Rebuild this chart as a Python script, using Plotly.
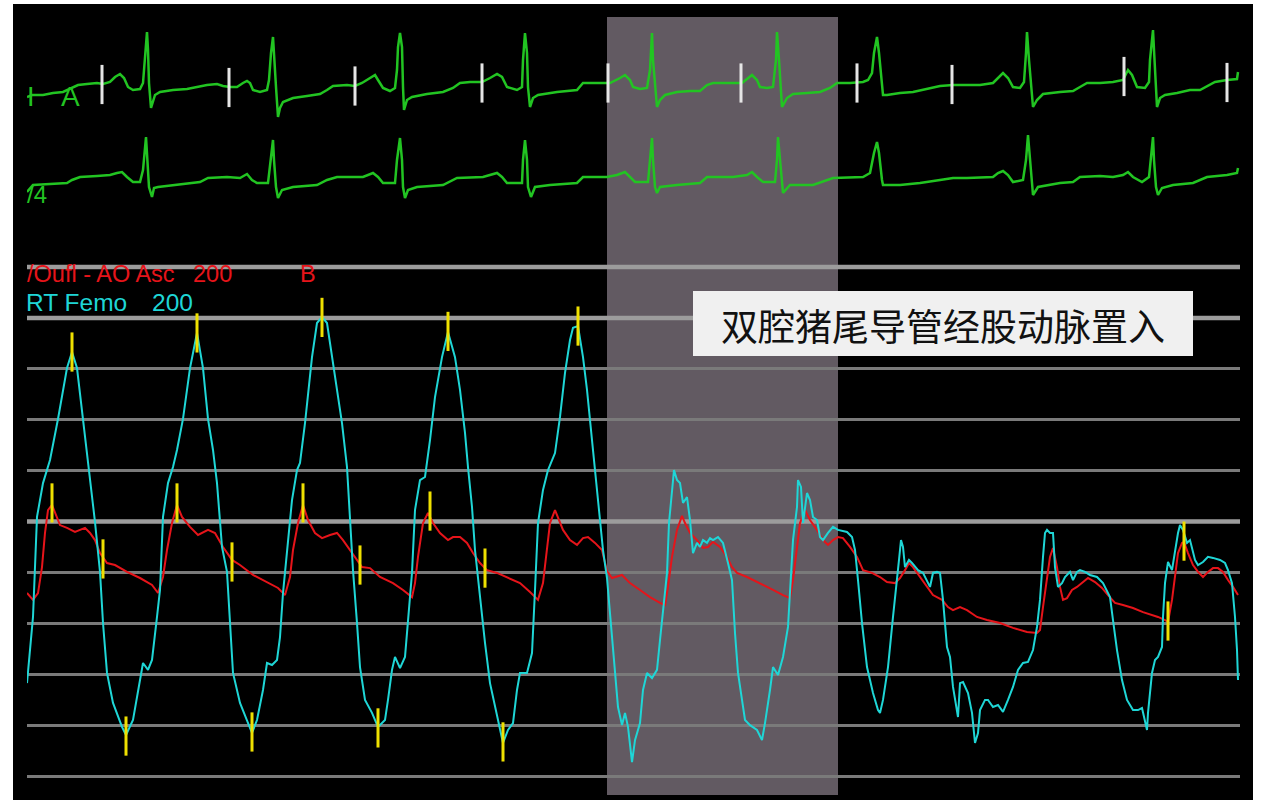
import numpy as np
import plotly.graph_objects as go

FS = 200.0  # samples per second of the monitor sweep

# ---------------- Femoral pressure (RT Femo, mmHg) ----------------
fem_s = [0, 6, 10, 16, 23, 31, 40, 45, 50, 56,
         61, 63, 68, 73, 76, 80, 86, 95, 99, 106,
         111, 116, 121, 125, 130, 133, 136, 141, 146, 150,
         156, 163, 170, 176, 181, 186, 190, 195, 200, 203,
         206, 213, 221, 225, 230, 236, 240, 245, 250, 253,
         256, 260, 265, 270, 273, 278, 285, 290, 295, 300,
         305, 310, 315, 320, 323, 326, 330, 333, 338, 345,
         351, 358, 361, 365, 368, 373, 378, 381, 385, 388,
         393, 398, 403, 408, 415, 421, 428, 433, 438, 441,
         445, 448, 453, 458, 463, 470, 476, 481, 486, 490,
         493, 500, 505, 508, 511, 516, 521, 528, 533, 538,
         543, 546, 551, 556, 560, 565, 568, 573, 576, 580,
         585, 588, 591, 595, 598, 601, 605, 608, 613, 616,
         620, 625, 630, 633, 636, 640, 642, 645, 647, 650,
         653, 656, 660, 663, 666, 670, 673, 676, 680, 683,
         686, 691, 696, 701, 705, 708, 711, 715, 718, 723,
         730, 735, 738, 743, 746, 751, 756, 761, 763, 766,
         770, 771, 774, 776, 780, 783, 786, 790, 793, 796,
         801, 806, 811, 820, 825, 828, 831, 835, 840, 846,
         851, 853, 856, 861, 866, 870, 872, 874, 876, 878,
         882, 885, 888, 891, 896, 903, 906, 910, 913, 916,
         920, 923, 926, 930, 931, 933, 936, 941, 945, 948,
         951, 953, 958, 961, 966, 971, 976, 981, 986, 991,
         996, 1001, 1006, 1010, 1013, 1016, 1018, 1020, 1023, 1026,
         1028, 1031, 1035, 1038, 1043, 1046, 1050, 1053, 1058, 1063,
         1070, 1076, 1083, 1086, 1090, 1095, 1100, 1106, 1111, 1115,
         1118, 1120, 1121, 1125, 1128, 1131, 1135, 1136, 1138, 1141,
         1145, 1148, 1151, 1153, 1156, 1160, 1163, 1168, 1171, 1176,
         1181, 1186, 1193, 1198, 1201, 1205, 1208, 1210, 1211]
fem_mmhg = [36.5, 62.5, 101.8, 115.1, 124.2, 140.3, 160.3, 166.6, 160.3, 140.3,
            124.2, 115.1, 99.8, 80.2, 60.1, 40.5, 28.7, 19.3, 16.1, 22.0,
            32.6, 44.4, 41.7, 45.6, 62.5, 73.1, 101.8, 115.1, 121.4, 128.1,
            140.3, 160.3, 174.1, 160.3, 140.3, 128.1, 115.1, 90.0, 80.2, 60.1,
            40.5, 28.7, 20.8, 16.9, 22.0, 33.8, 44.4, 43.6, 45.6, 54.6,
            71.9, 88.8, 108.4, 120.2, 123.0, 138.7, 164.6, 178.0, 180.4, 178.0,
            164.6, 151.7, 138.7, 121.4, 99.4, 80.9, 60.1, 42.8, 29.9, 24.8,
            19.3, 22.0, 29.9, 41.7, 46.8, 42.4, 46.8, 60.1, 79.8, 104.5,
            116.3, 117.5, 132.0, 148.9, 164.6, 174.5, 164.6, 151.7, 134.8, 121.4,
            105.7, 88.8, 70.3, 52.3, 36.5, 23.2, 13.0, 18.1, 20.8, 33.8,
            40.5, 40.5, 48.3, 73.1, 99.4, 112.4, 120.2, 126.9, 141.1, 158.4,
            171.3, 176.1, 176.8, 164.6, 151.7, 132.0, 120.2, 98.6, 88.8, 77.8,
            53.4, 40.5, 27.1, 20.0, 24.8, 19.3, 5.5, 14.1, 20.8, 33.8,
            40.5, 38.5, 41.7, 53.4, 64.1, 79.8, 99.4, 112.4, 120.2, 116.3,
            115.1, 107.3, 109.6, 100.6, 87.6, 91.6, 90.0, 92.7, 91.6, 93.5,
            92.7, 93.9, 91.6, 83.7, 77.0, 56.2, 40.5, 29.9, 22.0, 20.0,
            18.1, 14.1, 20.8, 33.8, 42.8, 39.7, 46.8, 58.6, 73.1, 92.7,
            105.7, 116.3, 113.6, 99.4, 111.2, 108.4, 101.8, 100.6, 93.9, 92.7,
            95.5, 97.9, 96.7, 95.9, 93.9, 88.8, 77.0, 60.1, 42.8, 32.6,
            25.9, 24.8, 29.9, 42.8, 62.5, 75.8, 84.9, 92.7, 90.0, 82.1,
            84.9, 83.7, 82.1, 80.9, 79.8, 74.3, 79.8, 80.2, 79.8, 69.2,
            50.7, 46.8, 35.0, 24.8, 23.2, 36.5, 36.9, 32.6, 24.8, 13.0,
            16.9, 25.9, 29.9, 29.9, 27.1, 27.9, 25.2, 29.9, 35.0, 41.7,
            44.4, 44.8, 49.5, 58.6, 69.2, 86.1, 95.5, 96.7, 95.5, 95.5,
            82.1, 74.3, 75.8, 78.2, 80.2, 77.0, 80.2, 80.9, 80.2, 79.0,
            78.2, 75.8, 70.3, 61.3, 49.5, 37.7, 29.9, 25.9, 25.9, 26.7,
            22.0, 18.1, 24.8, 40.5, 45.6, 46.8, 50.7, 62.5, 75.8, 84.1,
            80.9, 88.8, 95.5, 98.6, 96.7, 91.6, 92.7, 84.9, 82.9, 84.1,
            86.1, 85.7, 84.9, 83.7, 80.9, 75.8, 62.5, 49.5, 37.7]

# ---------------- Ascending aorta pressure (AO Asc, mmHg) ----------------
ao_s = [0, 6, 11, 15, 18, 21, 25, 28, 33, 40,
        48, 58, 63, 68, 73, 80, 88, 100, 113, 125,
        131, 136, 140, 145, 150, 155, 163, 171, 181, 188,
        196, 205, 213, 226, 240, 251, 258, 263, 266, 271,
        276, 281, 288, 295, 303, 310, 316, 323, 330, 335,
        343, 353, 366, 376, 385, 388, 391, 396, 401, 406,
        413, 421, 426, 433, 440, 446, 453, 460, 470, 480,
        493, 503, 511, 516, 520, 523, 528, 531, 536, 543,
        550, 556, 561, 568, 575, 580, 585, 595, 603, 613,
        623, 633, 638, 641, 645, 650, 655, 658, 663, 670,
        676, 681, 686, 693, 700, 705, 710, 720, 733, 746,
        756, 763, 766, 770, 773, 778, 783, 790, 796, 801,
        806, 811, 816, 823, 830, 836, 845, 853, 860, 868,
        873, 878, 882, 886, 893, 900, 906, 915, 921, 926,
        933, 940, 950, 960, 973, 986, 1000, 1010, 1013, 1016,
        1020, 1023, 1026, 1030, 1033, 1036, 1040, 1045, 1050, 1056,
        1061, 1068, 1075, 1081, 1088, 1096, 1106, 1116, 1125, 1131,
        1138, 1141, 1145, 1148, 1151, 1155, 1157, 1161, 1166, 1171,
        1176, 1181, 1186, 1191, 1196, 1201, 1206, 1211]
ao_mmhg = [71.9, 69.2, 71.9, 82.1, 95.5, 104.5, 106.5, 103.4, 98.6, 97.5,
           95.9, 97.5, 95.5, 92.7, 87.6, 83.7, 82.9, 80.2, 77.8, 75.1,
           71.9, 78.2, 88.8, 99.4, 106.5, 101.8, 97.9, 94.7, 96.7, 95.5,
           90.0, 84.9, 82.9, 79.0, 76.2, 73.9, 71.1, 78.2, 88.8, 99.4,
           106.5, 100.6, 95.5, 93.5, 94.7, 95.5, 92.7, 88.8, 84.9, 82.1,
           81.7, 78.2, 75.8, 73.1, 70.3, 75.8, 86.1, 99.4, 103.4, 99.4,
           95.5, 92.7, 93.9, 93.9, 91.6, 87.6, 83.7, 80.9, 79.8, 78.2,
           75.8, 72.3, 69.2, 75.8, 88.8, 99.4, 104.5, 101.8, 96.7, 92.7,
           90.8, 93.5, 93.9, 91.6, 88.8, 80.5, 77.8, 79.0, 75.8, 73.1,
           70.3, 68.0, 67.2, 74.3, 86.1, 96.7, 102.2, 99.4, 95.5, 92.7,
           89.6, 90.0, 92.0, 90.0, 86.1, 82.1, 79.8, 78.2, 75.8, 73.1,
           71.1, 69.9, 77.0, 88.8, 99.4, 104.5, 100.6, 96.7, 92.7, 90.8,
           92.7, 93.9, 93.5, 90.0, 86.1, 80.9, 79.8, 78.2, 76.2, 75.8,
           77.8, 80.9, 83.7, 82.1, 78.2, 74.3, 71.1, 69.2, 66.4, 65.2,
           66.4, 65.2, 62.5, 61.3, 60.1, 58.2, 56.6, 56.2, 57.4, 66.4,
           77.0, 86.1, 89.6, 82.1, 74.3, 69.2, 69.9, 73.1, 74.3, 76.2,
           77.8, 76.2, 73.9, 71.1, 68.0, 67.2, 66.0, 64.4, 63.3, 62.5,
           61.3, 60.5, 69.2, 78.2, 87.6, 91.6, 92.0, 87.6, 82.9, 80.2,
           78.2, 80.2, 81.7, 81.7, 80.2, 77.0, 74.3, 71.1]

# ---------------- ECG lead I (mV) ----------------
ecg1_s = [0, 5, 16, 26, 36, 45, 51, 60, 70, 76,
          83, 88, 93, 97, 101, 106, 113, 116, 117, 119,
          120, 121, 122, 124, 126, 128, 133, 146, 160, 170,
          180, 190, 196, 203, 210, 216, 220, 223, 226, 233,
          240, 242, 244, 246, 247, 249, 251, 253, 256, 266,
          280, 293, 300, 306, 320, 328, 335, 343, 348, 351,
          356, 363, 368, 370, 371, 373, 375, 376, 377, 380,
          385, 400, 416, 426, 433, 443, 455, 463, 470, 475,
          480, 490, 495, 496, 498, 500, 501, 503, 506, 511,
          530, 550, 556, 570, 583, 593, 598, 603, 606, 613,
          620, 623, 625, 626, 628, 630, 633, 638, 650, 663,
          673, 680, 686, 706, 715, 720, 725, 730, 733, 740,
          746, 749, 750, 752, 754, 755, 760, 766, 780, 793,
          803, 810, 823, 836, 841, 845, 847, 850, 852, 855,
          856, 860, 873, 886, 900, 913, 926, 940, 953, 966,
          971, 976, 981, 986, 993, 997, 999, 1000, 1002, 1004,
          1006, 1010, 1016, 1033, 1046, 1053, 1060, 1073, 1086, 1096,
          1101, 1105, 1110, 1118, 1122, 1123, 1126, 1127, 1129, 1130,
          1133, 1138, 1150, 1163, 1173, 1180, 1188, 1200, 1210, 1211]
ecg1_mv = [-0.04, 0, 0, 0.04, 0.06, 0.14, 0.20, 0.22, 0.24, 0.22,
           0.26, 0.36, 0.42, 0.34, 0.16, 0.10, 0.12, 0.24, 0.50, 0.90,
           1.26, 0.90, 0.24, -0.26, -0.14, 0, 0.06, 0.10, 0.12, 0.16,
           0.20, 0.22, 0.18, 0.16, 0.16, 0.24, 0.28, 0.24, 0.10, 0.06,
           0.10, 0.30, 0.84, 1.16, 0.76, 0.16, -0.44, -0.26, -0.14, -0.06,
           -0.02, 0.02, 0.10, 0.18, 0.20, 0.18, 0.24, 0.34, 0.40, 0.30,
           0.14, 0.08, 0.14, 0.50, 0.96, 1.24, 0.96, 0.16, -0.30, -0.10,
           -0.04, 0.02, 0.06, 0.14, 0.24, 0.26, 0.26, 0.34, 0.42, 0.36,
           0.16, 0.10, 0.16, 0.70, 1.24, 0.84, 0.16, -0.24, -0.06, 0,
           0.06, 0.10, 0.24, 0.24, 0.24, 0.34, 0.40, 0.30, 0.16, 0.12,
           0.14, 0.50, 1.24, 0.70, 0.16, -0.24, -0.10, 0, 0.06, 0.08,
           0.08, 0.20, 0.24, 0.24, 0.24, 0.32, 0.40, 0.30, 0.16, 0.14,
           0.16, 0.70, 1.26, 0.70, 0.16, -0.24, -0.06, 0.02, 0.04, 0.06,
           0.14, 0.24, 0.24, 0.26, 0.30, 0.44, 0.84, 1.16, 0.84, 0.30,
           0, 0, 0.04, 0.06, 0.12, 0.18, 0.20, 0.20, 0.20, 0.24,
           0.34, 0.44, 0.34, 0.16, 0.14, 0.26, 0.84, 1.26, 0.70, 0.16,
           -0.24, -0.10, 0.02, 0.06, 0.08, 0.16, 0.24, 0.24, 0.26, 0.30,
           0.50, 0.40, 0.16, 0.14, 0.26, 0.70, 1.30, 0.90, 0.16, -0.24,
           -0.06, 0, 0.04, 0.10, 0.10, 0.18, 0.26, 0.30, 0.32, 0.46]

# ---------------- ECG lead V4 (mV) ----------------
ecg2_s = [0, 6, 23, 40, 45, 53, 70, 83, 90, 95,
          100, 106, 113, 116, 119, 120, 122, 125, 127, 131,
          146, 163, 173, 181, 200, 213, 220, 225, 230, 241,
          243, 246, 247, 249, 251, 255, 266, 290, 300, 310,
          336, 346, 351, 356, 368, 370, 373, 375, 376, 378,
          381, 390, 416, 430, 456, 470, 475, 480, 495, 496,
          498, 500, 501, 504, 508, 523, 550, 556, 580, 590,
          598, 603, 608, 621, 623, 625, 626, 628, 630, 633,
          650, 673, 680, 706, 720, 725, 730, 736, 748, 750,
          751, 753, 755, 756, 763, 786, 806, 836, 843, 847,
          850, 852, 855, 856, 873, 893, 913, 926, 940, 966,
          971, 976, 981, 986, 996, 999, 1001, 1003, 1005, 1006,
          1011, 1033, 1046, 1053, 1073, 1086, 1096, 1101, 1106, 1115,
          1122, 1124, 1126, 1127, 1129, 1131, 1135, 1146, 1166, 1180,
          1200, 1210, 1211]
ecg2_mv = [-0.20, -0.06, -0.04, -0.02, 0.04, 0.10, 0.12, 0.14, 0.18, 0.20,
           0.10, 0, 0, 0.24, 0.90, 0.50, -0.10, -0.30, -0.12, -0.10,
           -0.06, -0.02, 0, 0.08, 0.10, 0.08, 0.16, 0.04, -0.02, -0.02,
           0.38, 0.84, 0.44, -0.10, -0.32, -0.16, -0.10, -0.06, 0.04, 0.10,
           0.10, 0.18, 0.10, -0.02, -0.02, 0.44, 0.88, 0.44, -0.10, -0.32,
           -0.16, -0.10, -0.06, 0.08, 0.10, 0.18, 0.10, -0.02, -0.02, 0.44,
           0.84, 0.44, -0.10, -0.30, -0.10, -0.06, -0.02, 0.10, 0.10, 0.14,
           0.20, 0.10, 0, 0, 0.44, 0.88, 0.44, -0.10, -0.22, -0.10,
           -0.06, -0.02, 0.10, 0.10, 0.14, 0.20, 0.10, 0, 0, 0.44,
           0.90, 0.44, -0.10, -0.22, -0.06, -0.06, 0.08, 0.10, 0.18, 0.58,
           0.80, 0.58, 0.04, -0.06, -0.06, -0.02, 0.04, 0.08, 0.08, 0.10,
           0.18, 0.22, 0.14, 0, 0.04, 0.44, 0.94, 0.44, -0.10, -0.26,
           -0.10, -0.02, 0, 0.10, 0.12, 0.10, 0.14, 0.20, 0.10, 0,
           0.10, 0.44, 0.90, 0.44, -0.10, -0.26, -0.12, -0.06, -0.02, 0.10,
           0.14, 0.18, 0.28]

# ---------------- Event markers ----------------
fem_mark_s = [45, 170, 295, 421, 551, 99, 225, 351, 476]
fem_mark_mmhg = [166.6, 174.1, 180.2, 174.7, 176.8, 15.7, 17.3, 18.9, 13.4]
ao_mark_s = [25, 76, 150, 205, 276, 333, 403, 458, 1141, 1157]
ao_mark_mmhg = [107.3, 85.3, 107.3, 84.1, 107.3, 82.9, 104.1, 81.7, 60.9, 92.3]
ecg_mark_s = [75, 202, 328, 455, 581, 714, 830, 925, 1097, 1200]
ecg_mark_mv = [0.21, 0.15, 0.18, 0.24, 0.24, 0.24, 0.24, 0.21, 0.37, 0.25]

grid_mmhg = [0, 20, 40, 60, 80, 100, 120, 140, 160, 180, 200]
shade_s = [580, 811]  # highlighted interval (samples)

labels_ecg = ["I", "A", "/4"]
label_ao = ["/Oufl - AO Asc", "200", "B"]
label_fem = ["RT Femo", "200"]
note_text = "双腔猪尾导管经股动脉置入"

assert len(fem_s) == len(fem_mmhg)
assert len(ao_s) == len(ao_mmhg)
assert len(ecg1_s) == len(ecg1_mv)
assert len(ecg2_s) == len(ecg2_mv)

W, H = 1261, 805
T_END = 1213 / FS


def px(xp):
    return xp / W


def py(yp):
    return 1 - yp / H


GREEN = "#22c422"
CYAN = "#1fd6d6"
RED = "#e6141a"
YELLOW = "#efe000"
FONT = "Liberation Sans, Arial, sans-serif"

fig = go.Figure()

fig.add_trace(go.Scatter(x=np.array(ecg1_s) / FS, y=ecg1_mv, yaxis="y2", mode="lines",
                         line=dict(color=GREEN, width=2.5), hoverinfo="skip"))
fig.add_trace(go.Scatter(x=np.array(ecg2_s) / FS, y=ecg2_mv, yaxis="y3", mode="lines",
                         line=dict(color=GREEN, width=2.5), hoverinfo="skip"))
fig.add_trace(go.Scatter(x=np.array(ecg_mark_s) / FS, y=ecg_mark_mv, yaxis="y2", mode="markers",
                         marker=dict(symbol="line-ns", size=28, line=dict(width=3, color="#e6e6e6")),
                         hoverinfo="skip"))
fig.add_trace(go.Scatter(x=np.array(ao_s) / FS, y=ao_mmhg, mode="lines",
                         line=dict(color=RED, width=2), hoverinfo="skip"))
fig.add_trace(go.Scatter(x=np.array(fem_s) / FS, y=fem_mmhg, mode="lines",
                         line=dict(color=CYAN, width=2), hoverinfo="skip"))
fig.add_trace(go.Scatter(x=np.array(fem_mark_s) / FS, y=fem_mark_mmhg, mode="markers",
                         marker=dict(symbol="line-ns", size=28, line=dict(width=3, color=YELLOW)),
                         hoverinfo="skip"))
fig.add_trace(go.Scatter(x=np.array(ao_mark_s) / FS, y=ao_mark_mmhg, mode="markers",
                         marker=dict(symbol="line-ns", size=28, line=dict(width=3, color=YELLOW)),
                         hoverinfo="skip"))

shapes = [
    dict(type="rect", xref="paper", yref="paper", x0=px(13), x1=px(1253), y0=py(800), y1=py(4),
         fillcolor="black", line=dict(width=0), layer="below"),
    dict(type="rect", xref="x", yref="paper", x0=shade_s[0] / FS, x1=shade_s[1] / FS,
         y0=py(795), y1=py(17), fillcolor="#625a62", line=dict(width=0), layer="below"),
]
for v in (100, 180, 200):
    shapes.append(dict(type="line", xref="x", yref="y", x0=0, x1=T_END, y0=v, y1=v,
                       line=dict(color="#9c9c9c", width=4.5), layer="between"))
shapes.append(dict(type="rect", xref="paper", yref="paper", x0=px(693), x1=px(1193),
                   y0=py(356), y1=py(291), fillcolor="#f0f0f0", line=dict(width=0), layer="above"))

ann = []


def label(text, x, y, size, color, anchor="left", family=FONT):
    ann.append(dict(text=text, x=px(x), y=py(y), xref="paper", yref="paper", showarrow=False,
                    xanchor=anchor, yanchor="middle", borderpad=0,
                    font=dict(family=family, size=size, color=color)))


label(labels_ecg[0], 26, 97, 27, GREEN)
label(labels_ecg[1], 60, 97, 28, GREEN)
label(labels_ecg[2], 26, 194, 24, GREEN)
label(label_ao[0], 26, 274, 23.5, RED)
label(label_ao[1], 192, 274, 23.5, RED)
label(label_ao[2], 299, 274, 23.5, RED)
label(label_fem[0], 25, 302, 24.5, CYAN)
label(label_fem[1], 151, 302, 24.5, CYAN)
label(note_text, 943, 325, 37, "#111111", anchor="center",
      family="Noto Sans CJK SC, sans-serif")

fig.update_layout(
    width=W, height=H,
    margin=dict(l=0, r=0, t=0, b=0, pad=0),
    paper_bgcolor="white", plot_bgcolor="rgba(0,0,0,0)",
    showlegend=False,
    xaxis=dict(domain=[px(27), px(1240)], range=[0, T_END], showgrid=False, zeroline=False,
               showticklabels=False, ticks="", showline=False, fixedrange=True),
    yaxis=dict(domain=[0, 1], range=[-11.39, 304.92], tickvals=grid_mmhg, showgrid=True,
               gridcolor="#7a7a7a", gridwidth=3, zeroline=False, showticklabels=False,
               ticks="", showline=False, fixedrange=True),
    yaxis2=dict(overlaying="y", range=[-14.2, 1.9], visible=False, fixedrange=True),
    yaxis3=dict(overlaying="y", range=[-12.46, 3.64], visible=False, fixedrange=True),
    shapes=shapes,
    annotations=ann,
)

fig.write_html("out.html", config={"displayModeBar": False},
               post_script="document.body.style.margin='0';document.body.style.overflow='hidden';")
